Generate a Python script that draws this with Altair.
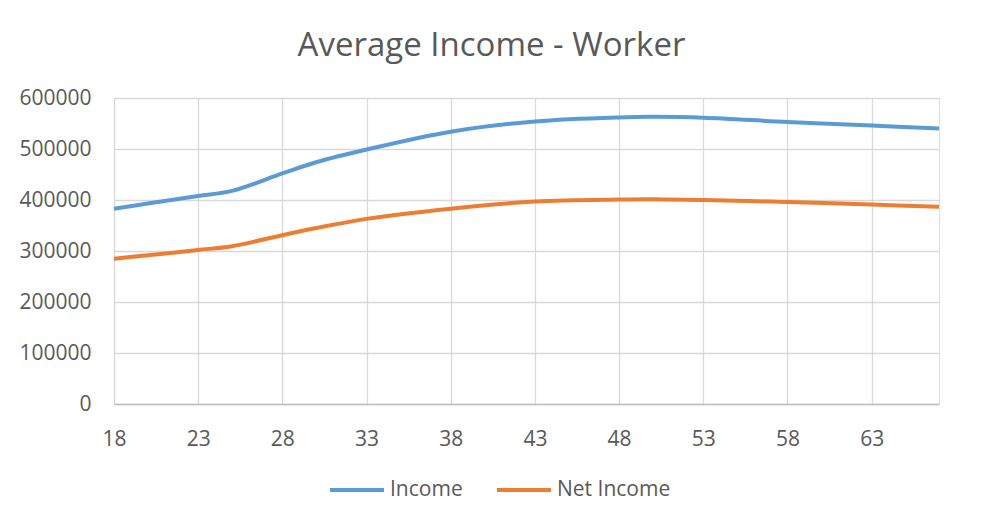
import altair as alt
import pandas as pd

ages = [18, 20, 23, 25, 28, 30, 33, 38, 43, 48, 50, 53, 58, 63, 67]
income = [383000, 393000, 408000, 418000, 452000, 474000, 499000, 534000,
          554000, 562000, 563000, 561500, 553000, 546000, 540000]
net_income = [285000, 291500, 302000, 309500, 331000, 345000, 363000, 383000,
              397000, 401000, 401500, 400000, 396000, 391000, 387000]
series_names = ["Income", "Net Income"]
series_colors = ["#5B9BD5", "#ED7D31"]
x_ticks = [18, 23, 28, 33, 38, 43, 48, 53, 58, 63]
y_ticks = [0, 100000, 200000, 300000, 400000, 500000, 600000]

rows = []
for a, v in zip(ages, income):
    rows.append({"Age": a, "Value": v, "Series": series_names[0]})
for a, v in zip(ages, net_income):
    rows.append({"Age": a, "Value": v, "Series": series_names[1]})
df = pd.DataFrame(rows)

FONT = "Open Sans"
TXT = "#595959"

chart = alt.Chart(df).mark_line(strokeWidth=4, interpolate="catmull-rom").encode(
    x=alt.X("Age:Q",
            scale=alt.Scale(domain=[18, 67], nice=False, zero=False),
            axis=alt.Axis(values=x_ticks, title=None, ticks=False,
                          labelPadding=24, labelFontSize=21, labelColor=TXT,
                          labelFont=FONT, grid=True, gridColor="#D9D9D9",
                          gridWidth=1.3, domainColor="#BFBFBF", domainWidth=1.3,
                          labelFlush=False)),
    y=alt.Y("Value:Q",
            scale=alt.Scale(domain=[0, 600000], nice=False),
            axis=alt.Axis(values=y_ticks, title=None, ticks=False, format="d",
                          labelPadding=23, labelFontSize=21, labelColor=TXT,
                          labelFont=FONT, grid=True, gridColor="#D9D9D9",
                          gridWidth=1.3, domain=False)),
    color=alt.Color("Series:N",
                    scale=alt.Scale(domain=series_names, range=series_colors),
                    legend=alt.Legend(title=None, orient="none", direction="horizontal",
                                      legendX=214, legendY=363,
                                      symbolType="stroke", symbolSize=2916,
                                      symbolStrokeWidth=4, labelFontSize=21,
                                      labelFont=FONT, labelColor=TXT,
                                      labelOffset=4, columnPadding=26, padding=0)),
).properties(
    width=825,
    height=306,
    title=alt.TitleParams("Average Income - Worker", fontSize=33, font=FONT,
                          fontWeight="normal", color=TXT, anchor="middle", dx=-35,
                          offset=24),
    autosize=alt.AutoSizeParams(type="none"),
    padding={"left": 106, "top": 90, "right": 35, "bottom": 110},
).configure_view(stroke=None).configure(background="white")

chart.save("out.html", embed_options={"renderer": "svg", "actions": False})
